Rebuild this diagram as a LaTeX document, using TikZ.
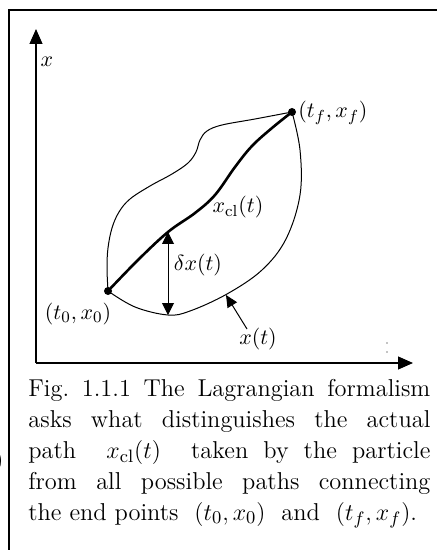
\documentclass[tikz,border=0pt]{standalone}
\usepackage{tikz}
\usetikzlibrary{arrows.meta}
\usepackage{xcolor}
\definecolor{inkblack}{RGB}{0,0,0}

\begin{document}
\begin{tikzpicture}[x=0.5pt,y=-0.5pt,
    axisline/.style={inkblack,line width=0.6pt,-{Triangle[length=7.5pt,width=6.5pt]}},
    trialpath/.style={inkblack,line width=0.5pt},
    classpath/.style={inkblack,line width=1.3pt},
    pointer/.style={inkblack,line width=0.5pt,-{Triangle[length=6pt,width=5.5pt]}},
    plotlabel/.style={inner sep=1pt,font=\fontsize{11}{13}\selectfont},
    enddot/.style={circle,fill=inkblack,inner sep=0pt,minimum size=4pt}]
  % --- page ---
  \useasboundingbox (0,0) rectangle (437,550);
  \draw[inkblack,line width=1pt] (9,550) -- (9,10) -- (440,10);
  % leftover of the neighbouring column
  \node[anchor=east,inner sep=0pt,font=\fontsize{12}{15.5}\selectfont] at (4,462) {)};

  % --- axes ---
  \coordinate (origin) at (36,363);
  \coordinate (xtip) at (413,363);
  \coordinate (ytip) at (36,29);
  \draw[axisline] (origin) -- (ytip);
  \draw[axisline] (origin) -- (xtip);
  \node[plotlabel] (xlab) at (47,62) {$x$};
  % small marks near the time axis
  \fill[inkblack] (387,343) circle (0.7) (387,352) circle (0.7);

  % --- end points ---
  \node[enddot] (start) at (108,291) {};
  \node[enddot] (final) at (292,112) {};
  \node[plotlabel,anchor=west] (finallab) at (296,113) {$(t_f,x_f)$};
  \node[plotlabel] (startlab) at (78,314) {$(t_0,x_0)$};

  % --- trial path, upper branch ---
  \draw[trialpath] plot[smooth,tension=0.6] coordinates {
    (108,291) (107,268) (108,248) (112,228) (119,212) (130,199)
    (150,186) (172,174) (188,163) (196,152) (200,140) (207,131)
    (222,125) (255,119) (292,112)};
  % --- trial path, lower branch ---
  \draw[trialpath] plot[smooth,tension=0.6] coordinates {
    (292,112) (300,150) (300,195) (286,239) (262,270)
    (227,294) (190,311) (168,315) (135,307) (108,291)};

  % --- classical path ---
  \draw[classpath] plot[smooth,tension=0.6] coordinates {
    (108,291) (138,260) (168,232) (195,213) (215,195) (235,167)
    (252,146) (272,128) (292,112)};
  \node[plotlabel] (cllab) at (238,207) {$x_{\mathrm{cl}}(t)$};

  % --- variation ---
  \coordinate (vtop) at (168,232);
  \coordinate (vbot) at (168,315);
  \draw[inkblack,line width=0.5pt,{Triangle[length=6pt,width=6pt]}-{Triangle[length=6pt,width=6pt]}]
    (vtop) -- (vbot);
  \node[plotlabel] (dxlab) at (198,265) {$\delta x(t)$};

  % --- trial path label ---
  \coordinate (xthit) at (226,295);
  \node[plotlabel] (xtlab) at (258,339) {$x(t)$};
  \draw[pointer] (247,329) -- (xthit);

  % --- caption ---
  \node[anchor=base west,inner sep=0pt,text width=201pt,align=justify,
        font=\fontsize{12.2}{15.5}\selectfont] (caption) at (28,396)
    {Fig.\ 1.1.1 The Lagrangian formalism\linebreak
     asks what distinguishes the actual\linebreak
     path \ $x_{\mathrm{cl}}(t)$ \ taken by the particle\linebreak
     from all possible paths connecting\linebreak
     the end points \ $(t_0,x_0)$ \ and \ $(t_f,x_f)$.};
\end{tikzpicture}
\end{document}
